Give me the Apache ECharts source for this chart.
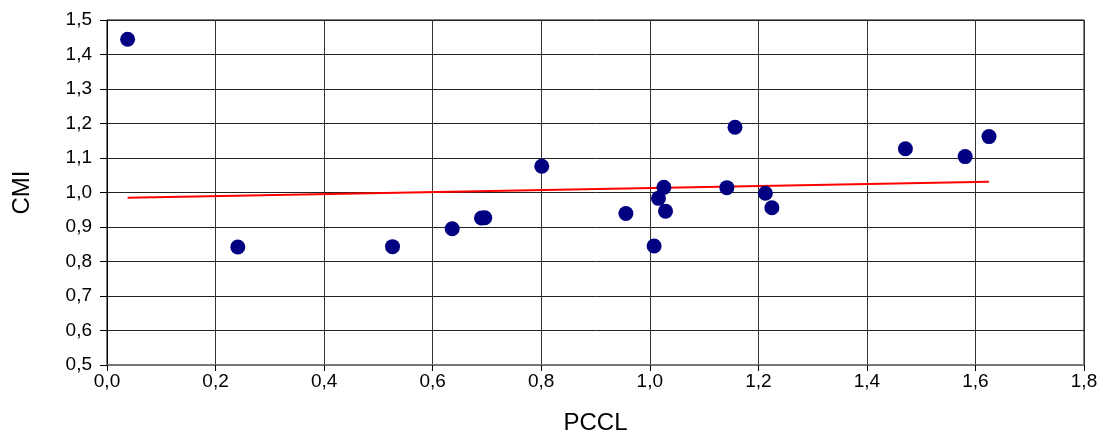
<!DOCTYPE html>
<html>
<head>
<meta charset="utf-8">
<script src="https://cdn.jsdelivr.net/npm/echarts@6/dist/echarts.min.js"></script>
<style>html,body{margin:0;padding:0;background:#fff}#c{width:1103px;height:434px}</style>
</head>
<body>
<div id="c"></div>
<script>
// Data
var pccl = [0.038, 0.241, 0.526, 0.636, 0.690, 0.696, 0.801, 0.956, 1.008, 1.016, 1.026, 1.029, 1.142, 1.157, 1.213, 1.225, 1.471, 1.581, 1.625];
var cmi  = [1.444, 0.842, 0.843, 0.895, 0.926, 0.927, 1.076, 0.939, 0.845, 0.983, 1.015, 0.946, 1.014, 1.189, 0.998, 0.956, 1.127, 1.104, 1.162];
var trendX = [0.038, 1.625];
var trendY = [0.985, 1.031];
var xTicks = ['0,0','0,2','0,4','0,6','0,8','1,0','1,2','1,4','1,6','1,8'];
var yTicks = ['0,5','0,6','0,7','0,8','0,9','1,0','1,1','1,2','1,3','1,4','1,5'];

var points = pccl.map(function (x, i) { return [x, cmi[i]]; });
var trend = trendX.map(function (x, i) { return [x, trendY[i]]; });

var font = 'Liberation Sans, Arial, sans-serif';
var chart = echarts.init(document.getElementById('c'), null, {renderer: 'canvas'});
chart.setOption({
  animation: false,
  backgroundColor: '#ffffff',
  grid: {left: 107, right: 19, top: 20, bottom: 69, containLabel: false, outerBoundsMode: 'none',
         show: true, borderColor: '#000', borderWidth: 1},
  xAxis: {
    type: 'value', min: 0, max: 1.8, interval: 0.2,
    name: 'PCCL', nameLocation: 'middle', nameGap: 46,
    nameTextStyle: {fontFamily: font, fontSize: 24, color: '#000'},
    axisLine: {show: true, onZero: false, lineStyle: {color: '#777', width: 2}},
    axisTick: {show: true, length: 6, lineStyle: {color: '#000'}},
    axisLabel: {fontFamily: font, fontSize: 19, color: '#000', margin: 7,
      formatter: function (v) { return xTicks[Math.round(v / 0.2)]; }},
    splitLine: {show: true, lineStyle: {color: '#333', width: 1}}
  },
  yAxis: {
    type: 'value', min: 0.5, max: 1.5, interval: 0.1,
    name: 'CMI', nameLocation: 'middle', nameGap: 73,
    nameTextStyle: {fontFamily: font, fontSize: 24, color: '#000'},
    axisLine: {show: true, onZero: false, lineStyle: {color: '#000', width: 1}},
    axisTick: {show: true, length: 7, lineStyle: {color: '#000'}},
    axisLabel: {fontFamily: font, fontSize: 19, color: '#000', margin: 15,
      formatter: function (v) { return yTicks[Math.round((v - 0.5) / 0.1)]; }},
    splitLine: {show: true, lineStyle: {color: '#222', width: 1}}
  },
  series: [
    {
      type: 'line', data: trend, showSymbol: false, symbol: 'none',
      lineStyle: {color: '#ff0000', width: 2}, z: 3
    },
    {
      type: 'scatter', data: points, symbol: 'circle', symbolSize: 15,
      itemStyle: {color: '#000080', opacity: 1}, z: 4
    }
  ]
});
</script>
</body>
</html>
